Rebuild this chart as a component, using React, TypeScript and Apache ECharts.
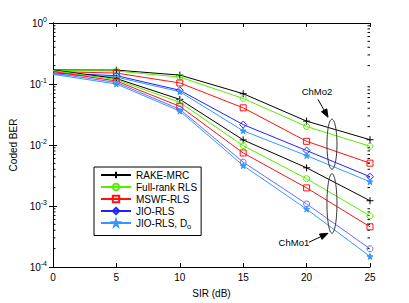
import React, { useEffect, useRef } from "react";
import * as echarts from "echarts";

const SIR = [0, 5, 10, 15, 20, 25];
const NAMES = ["RAKE-MRC", "Full-rank RLS", "MSWF-RLS", "JIO-RLS", "JIO-RLS, D_o"];

// ChMo2 (upper group)
const CHMO2_RAKE = [0.17, 0.169, 0.14, 0.0693, 0.0246, 0.0122];
const CHMO2_FULL = [0.166, 0.163, 0.13, 0.058, 0.0201, 0.00953];
const CHMO2_MSWF = [0.16, 0.151, 0.104, 0.0407, 0.0115, 0.00504];
const CHMO2_JIO = [0.151, 0.137, 0.079, 0.0216, 0.0081, 0.00302];
const CHMO2_JIOD = [0.144, 0.13, 0.0747, 0.0171, 0.0067, 0.0025];

// ChMo1 (lower group)
const CHMO1_RAKE = [0.17, 0.123, 0.056, 0.0121, 0.00423, 0.00122];
const CHMO1_FULL = [0.166, 0.118, 0.05, 0.00975, 0.0028, 0.00069];
const CHMO1_MSWF = [0.16, 0.112, 0.043, 0.0074, 0.00198, 0.000456];
const CHMO1_JIO = [0.151, 0.106, 0.0385, 0.00524, 0.00108, 0.000199];
const CHMO1_JIOD = [0.144, 0.1, 0.036, 0.0046, 0.00089, 0.000149];

const FONT = "Liberation Sans, Arial, Helvetica, sans-serif";

const PLUS = "path://M5,0L5,10M0,5L10,5";
const STAR =
  "path://M50,0L61,35L98,35L68,57L79,91L50,70L21,91L32,57L2,35L39,35Z";

type Style = { color: string; symbol: string; size: number; fill: string };

const STYLES2: Style[] = [
  { color: "#000000", symbol: PLUS, size: 7, fill: "transparent" },
  { color: "#55ee00", symbol: "emptyCircle", size: 6, fill: "none" },
  { color: "#ff1111", symbol: "emptyRect", size: 6, fill: "none" },
  { color: "#2222ff", symbol: "emptyDiamond", size: 7, fill: "none" },
  { color: "#3399ff", symbol: STAR, size: 6, fill: "#3399ff" },
];
const STYLES1: Style[] = [
  STYLES2[0],
  STYLES2[1],
  STYLES2[2],
  { color: "#6b6bff", symbol: "emptyCircle", size: 6, fill: "none" },
  STYLES2[4],
];

const GROUP2 = [CHMO2_RAKE, CHMO2_FULL, CHMO2_MSWF, CHMO2_JIO, CHMO2_JIOD];
const GROUP1 = [CHMO1_RAKE, CHMO1_FULL, CHMO1_MSWF, CHMO1_JIO, CHMO1_JIOD];

// minor tick values for log axis (2..9 x 10^k)
const MINOR_TICKS: number[] = [];
for (let k = -4; k <= -1; k++) {
  for (let m = 2; m <= 9; m++) MINOR_TICKS.push(m * Math.pow(10, k));
}

// annotation anchors (data coordinates)
const ELLIPSES = [
  { x: 22.0, yTop: 0.0265, yBot: 0.004 },
  { x: 22.0, yTop: 0.00338, yBot: 0.000357 },
];
const LABELS = [
  { text: "ChMo2", x: 20.82, y: 0.0755 },
  { text: "ChMo1", x: 19.0, y: 0.000255 },
];
const ARROWS = [
  { from: [20.9, 0.056], to: [21.69, 0.0285] },
  { from: [20.19, 0.000255], to: [21.69, 0.000357] },
];

function makeSeries(vals: number[], st: Style, name: string) {
  const isEmpty = st.symbol.indexOf("empty") === 0;
  return {
    type: "line",
    name,
    data: SIR.map((x, i) =>
      i === 0 ? { value: [x, vals[i]], symbol: "none" } : [x, vals[i]]
    ),
    symbol: isEmpty ? st.symbol.replace("empty", "").toLowerCase() : st.symbol,
    symbolSize: st.size,
    showAllSymbol: true,
    lineStyle: { color: st.color, width: 1 },
    itemStyle: {
      color: isEmpty ? "rgba(0,0,0,0)" : st.fill,
      borderColor: st.color,
      borderWidth: 1,
    },
    emphasis: { disabled: true },
    z: 3,
  };
}

export default function App() {
  const ref = useRef<HTMLDivElement>(null);
  useEffect(() => {
    if (!ref.current) return;
    const chart = echarts.init(ref.current, undefined, { renderer: "svg" });
    const series: any[] = [];
    GROUP2.forEach((v, i) => series.push(makeSeries(v, STYLES2[i], NAMES[i])));
    GROUP1.forEach((v, i) => series.push(makeSeries(v, STYLES1[i], NAMES[i])));
    series.push({
      type: "custom",
      silent: true,
      clip: false,
      data: MINOR_TICKS.map((v) => [0, v]),
      renderItem: (params: any, api: any) => {
        const y = api.coord([0, api.value(1)])[1];
        const cs = params.coordSys;
        return {
          type: "group",
          children: [
            {
              type: "line",
              shape: { x1: cs.x, y1: y, x2: cs.x + 2.5, y2: y },
              style: { stroke: "#000", lineWidth: 1 },
            },
            {
              type: "line",
              shape: { x1: cs.x + cs.width - 2.5, y1: y, x2: cs.x + cs.width, y2: y },
              style: { stroke: "#000", lineWidth: 1 },
            },
          ],
        };
      },
      z: 1,
    });

    const axisLine = { show: true, lineStyle: { color: "#000", width: 1 } };
    const logLabel = (v: number) => "10{sup|" + Math.round(Math.log10(v)) + "}";

    chart.setOption({
      animation: false,
      textStyle: { fontFamily: FONT },
      grid: { left: 53, right: 39, top: 23, bottom: 34 },
      legend: {
        data: NAMES,
        orient: "vertical",
        left: 94,
        top: 167,
        padding: [3, 4, 5, 6],
        itemGap: 2,
        itemWidth: 30,
        itemHeight: 8,
        itemTextGap: 3,
        backgroundColor: "#fff",
        borderColor: "#000",
        borderWidth: 1,
        borderRadius: 0,
        selectedMode: false,
        formatter: (name: string) =>
          name === "JIO-RLS, D_o" ? "JIO-RLS, D{sub|o}" : name,
        textStyle: {
          fontFamily: FONT,
          fontSize: 10,
          color: "#000",
          rich: {
            sub: { fontSize: 7.5, fontFamily: FONT, color: "#000", padding: [7, 0, 0, 0] },
          },
        },
      },
      xAxis: [
        {
          type: "value",
          min: 0,
          max: 25,
          interval: 5,
          name: "SIR (dB)",
          nameLocation: "middle",
          nameGap: 21,
          nameTextStyle: { fontFamily: FONT, fontSize: 10, color: "#000" },
          axisLine,
          axisTick: { show: true, inside: true, length: 4, lineStyle: { color: "#000" } },
          axisLabel: { fontFamily: FONT, fontSize: 10, color: "#000", margin: 5 },
          splitLine: { show: false },
        },
        {
          type: "value",
          position: "top",
          min: 0,
          max: 25,
          interval: 5,
          axisLine,
          axisTick: { show: true, inside: true, length: 4, lineStyle: { color: "#000" } },
          axisLabel: { show: false },
          splitLine: { show: false },
        },
      ],
      yAxis: [
        {
          type: "log",
          logBase: 10,
          min: 1e-4,
          max: 1,
          name: "Coded BER",
          nameLocation: "middle",
          nameGap: 30,
          nameTextStyle: { fontFamily: FONT, fontSize: 10, color: "#000" },
          axisLine,
          axisTick: { show: true, inside: true, length: 4, lineStyle: { color: "#000" } },
          axisLabel: {
            fontFamily: FONT,
            fontSize: 10,
            color: "#000",
            margin: 6,
            formatter: logLabel,
            rich: {
              sup: { fontSize: 7, fontFamily: FONT, color: "#000", padding: [0, 0, 7, 0] },
            },
          },
          splitLine: { show: false },
        },
        {
          type: "log",
          logBase: 10,
          min: 1e-4,
          max: 1,
          position: "right",
          axisLine,
          axisTick: { show: true, inside: true, length: 4, lineStyle: { color: "#000" } },
          axisLabel: { show: false },
          splitLine: { show: false },
        },
      ],
      series,
    });

    const px = (x: number, y: number) =>
      chart.convertToPixel({ xAxisIndex: 0, yAxisIndex: 0 }, [x, y]) as number[];

    const graphics: any[] = [];
    ELLIPSES.forEach((e) => {
      const t = px(e.x, e.yTop);
      const b = px(e.x, e.yBot);
      graphics.push({
        type: "ellipse",
        shape: { cx: t[0], cy: (t[1] + b[1]) / 2, rx: 5, ry: (b[1] - t[1]) / 2 },
        style: { fill: "none", stroke: "#333", lineWidth: 1 },
        z: 10,
      });
    });
    LABELS.forEach((l) => {
      const p = px(l.x, l.y);
      graphics.push({
        type: "text",
        x: p[0],
        y: p[1],
        style: {
          text: l.text,
          fontFamily: FONT,
          fontSize: 9.5,
          fill: "#000",
          align: "center",
          verticalAlign: "middle",
        },
        z: 10,
      });
    });
    ARROWS.forEach((a) => {
      const f = px(a.from[0], a.from[1]);
      const t = px(a.to[0], a.to[1]);
      const dx = t[0] - f[0];
      const dy = t[1] - f[1];
      const len = Math.sqrt(dx * dx + dy * dy);
      const ux = dx / len;
      const uy = dy / len;
      const hl = 8;
      const hw = 3;
      const bx = t[0] - ux * hl;
      const by = t[1] - uy * hl;
      graphics.push({
        type: "line",
        shape: { x1: f[0], y1: f[1], x2: bx, y2: by },
        style: { stroke: "#000", lineWidth: 1 },
        z: 10,
      });
      graphics.push({
        type: "polygon",
        shape: {
          points: [
            [t[0], t[1]],
            [bx - uy * hw, by + ux * hw],
            [bx + uy * hw, by - ux * hw],
          ],
        },
        style: { fill: "#000", stroke: "#000", lineWidth: 1 },
        z: 10,
      });
    });
    chart.setOption({ graphic: graphics });

    return () => chart.dispose();
  }, []);

  return (
    <div
      ref={ref}
      style={{ position: "fixed", left: 0, top: 0, width: 409, height: 303, background: "#fff" }}
    />
  );
}
